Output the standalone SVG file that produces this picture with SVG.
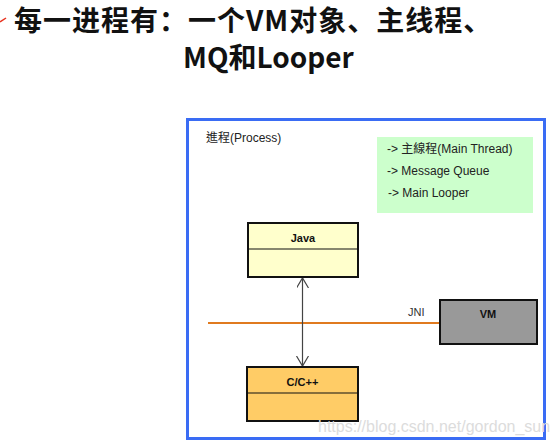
<svg xmlns="http://www.w3.org/2000/svg" width="556" height="445" viewBox="0 0 556 445">
<style>
.title{font-family:"Noto Sans CJK SC","Noto Sans",sans-serif;font-weight:bold;font-size:28px;fill:#111}
.small{font-family:"Liberation Sans","Noto Sans CJK TC",sans-serif;font-size:12px;fill:#222}
.lbl{font-family:"Liberation Sans",sans-serif;font-size:11px;font-weight:bold;fill:#111;text-anchor:middle}
.box{stroke:#111;stroke-width:2}
.div{stroke:#111;stroke-width:1.2}
</style>
<defs>
<marker id="openArrow" markerWidth="14" markerHeight="14" refX="10" refY="6" orient="auto-start-reverse" markerUnits="userSpaceOnUse">
<path d="M0,0 L10,6 L0,12" fill="none" stroke="#444" stroke-width="1.2"/>
</marker>
</defs>
<rect width="556" height="445" fill="#fff"/>
<g id="title">
<path d="M0,22 L6,18" stroke="#e8301c" stroke-width="1.5" fill="none"/>
<text class="title" x="14" y="31" letter-spacing="1">每一进程有：一个VM对象、主线程、</text>
<text class="title" x="183" y="68">MQ和Looper</text>
</g>
<g id="process">
<rect x="187.5" y="119.5" width="357" height="319" fill="#fff" stroke="#3a6cf4" stroke-width="3"/>
<text class="small" x="206" y="142">進程(Process)</text>
</g>
<g id="note">
<rect x="377" y="137" width="156" height="76" fill="#ccffcc"/>
<text class="small" x="387" y="153">-&gt; 主線程(Main Thread)</text>
<text class="small" x="387" y="175">-&gt; Message Queue</text>
<text class="small" x="388" y="197">-&gt; Main Looper</text>
</g>
<g id="connectors">
<line x1="208" y1="323" x2="440" y2="323" stroke="#e07a1f" stroke-width="2"/>
<line x1="302.5" y1="278" x2="302.5" y2="366" stroke="#444" stroke-width="1.2" marker-start="url(#openArrow)" marker-end="url(#openArrow)"/>
<text class="small" x="408" y="316" style="fill:#333;font-size:11px">JNI</text>
</g>
<g id="java">
<rect class="box" x="248" y="223" width="110" height="54" fill="#ffffcc"/>
<line class="div" x1="248" y1="249" x2="358" y2="249"/>
<text class="lbl" x="303" y="242">Java</text>
</g>
<g id="cpp">
<rect class="box" x="247" y="367" width="111" height="54" fill="#ffcc66"/>
<line class="div" x1="247" y1="393" x2="358" y2="393"/>
<text class="lbl" x="302.5" y="386">C/C++</text>
</g>
<g id="vm">
<rect class="box" x="440" y="300" width="97" height="44" fill="#999999"/>
<text class="lbl" x="488" y="318">VM</text>
</g>
<text x="318" y="432" font-family="Liberation Sans,sans-serif" font-size="16" fill="#dcdcdc">https://blog.csdn.net/gordon_sun</text>
</svg>
